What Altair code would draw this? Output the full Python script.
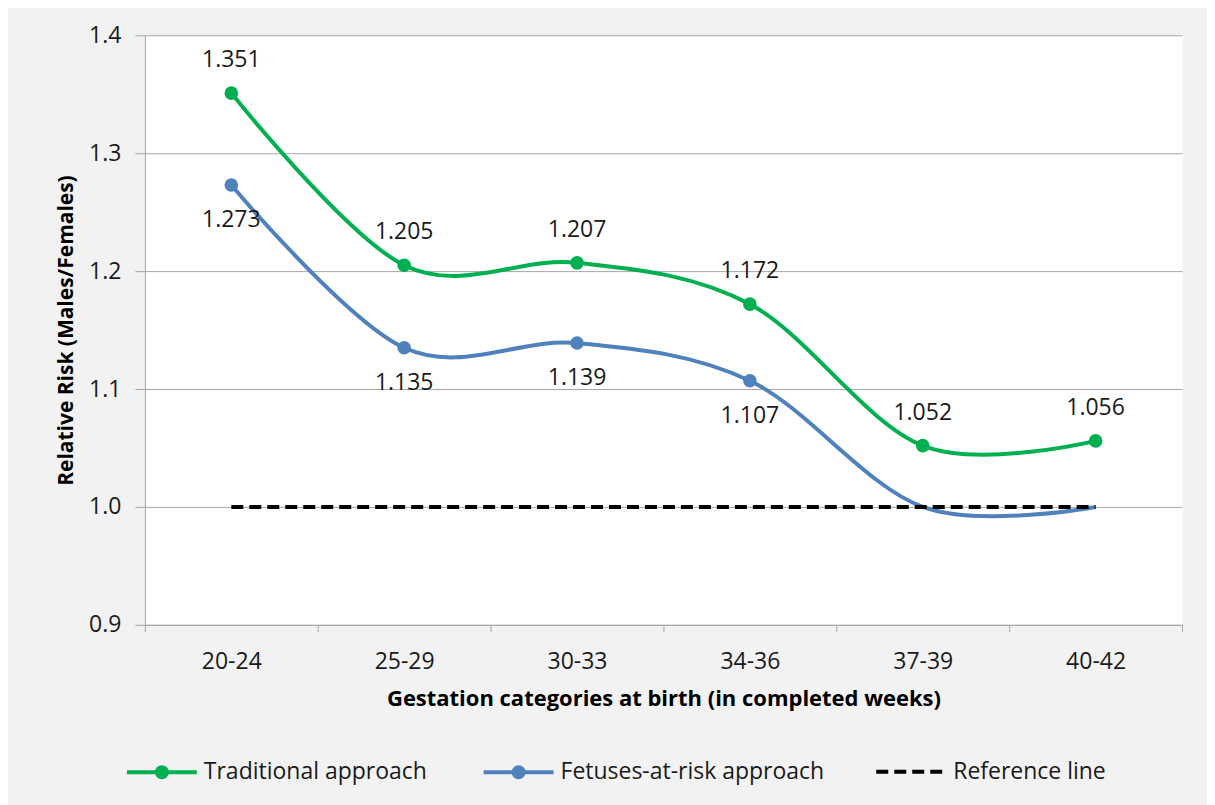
import altair as alt
import pandas as pd

categories = ["20-24", "25-29", "30-33", "34-36", "37-39", "40-42"]
traditional = [1.351, 1.205, 1.207, 1.172, 1.052, 1.056]
fetuses = [1.273, 1.135, 1.139, 1.107, 1.000, 1.000]
fetuses_marked = [True, True, True, True, False, False]
reference = [1.0, 1.0, 1.0, 1.0, 1.0, 1.0]
series_names = ["Traditional approach", "Fetuses-at-risk approach"]
series_colors = ["#00b050", "#4f81bd"]
ref_name = "Reference line"
y_ticks = [0.9, 1.0, 1.1, 1.2, 1.3, 1.4]

rows = []
for i, c in enumerate(categories):
    rows.append({"cat": c, "series": series_names[0], "value": traditional[i],
                 "marker": True, "label": f"{traditional[i]:.3f}"})
    rows.append({"cat": c, "series": series_names[1], "value": fetuses[i],
                 "marker": fetuses_marked[i], "label": f"{fetuses[i]:.3f}"})
    rows.append({"cat": c, "series": ref_name, "value": reference[i],
                 "marker": False, "label": ""})
df = pd.DataFrame(rows)

FONT = "Open Sans"
TXT = "#1a1a1a"
GRID = "#a6a6a6"
FS = 23


def ring(r):
    return f"M-{r},0A{r},{r} 0 1,1 {r},0A{r},{r} 0 1,1 -{r},0"


legend_shape = "M-1,0H1" + ring(0.143) + ring(0.09) + ring(0.04)

x = alt.X("cat:N", sort=categories, bandPosition=0.5,
          scale=alt.Scale(type="band", paddingInner=0, paddingOuter=0),
          axis=alt.Axis(title="Gestation categories at birth (in completed weeks)",
                        tickBand="extent", grid=False, labelAngle=0,
                        domainColor=GRID, tickColor=GRID, tickSize=7,
                        labelFontSize=FS, labelFont=FONT, labelColor=TXT, labelPadding=19,
                        titleFontSize=22, titleFont=FONT, titleFontWeight="bold",
                        titleColor="#000000", titlePadding=15))
y = alt.Y("value:Q", scale=alt.Scale(domain=[0.9, 1.4], nice=False, zero=False),
          axis=alt.Axis(title="Relative Risk (Males/Females)", values=y_ticks, format=".1f",
                        grid=True, gridColor=GRID, domainColor=GRID, tickColor=GRID,
                        tickSize=10, labelFontSize=FS, labelFont=FONT, labelColor=TXT,
                        labelPadding=14, titleFontSize=21, titleFont=FONT,
                        titleFontWeight="bold", titleColor="#000000", titlePadding=12))

color = alt.Color("series:N", scale=alt.Scale(domain=series_names, range=series_colors),
                  legend=alt.Legend(title=None, orient="none", legendX=-20, legendY=700,
                                    direction="horizontal", symbolType=legend_shape,
                                    symbolSize=4900, symbolStrokeWidth=4,
                                    labelFontSize=FS, labelFont=FONT, labelColor=TXT,
                                    labelLimit=500, labelOffset=5, columnPadding=48))
fill = alt.Fill("series:N", scale=alt.Scale(domain=series_names, range=series_colors),
                legend=None)
dash = alt.StrokeDash("series:N", scale=alt.Scale(domain=[ref_name], range=[[12, 6]]),
                      legend=alt.Legend(title=None, orient="none", legendX=730, legendY=700,
                                        symbolType="stroke", symbolSize=4900,
                                        symbolStrokeWidth=4, symbolStrokeColor="#000000",
                                        symbolDash=[12, 6],
                                        labelFontSize=FS, labelFont=FONT, labelColor=TXT,
                                        labelLimit=500, labelOffset=5))

base = alt.Chart(df)

lines = base.transform_filter(alt.datum.series != ref_name).mark_line(
    interpolate="cardinal", tension=0, strokeWidth=4).encode(x=x, y=y, color=color)
points = base.transform_filter(alt.datum.marker == True).mark_circle(
    size=185, opacity=1).encode(x=x, y=y, fill=fill)
ref = base.transform_filter(alt.datum.series == ref_name).mark_line(
    color="#000000", strokeWidth=4).encode(x=x, y=y, strokeDash=dash)
lab_top = base.transform_filter(alt.datum.series == series_names[0]).mark_text(
    dy=-33, fontSize=FS, font=FONT, color=TXT).encode(x=x, y=y, text="label:N")
lab_bot = base.transform_filter(
    (alt.datum.series == series_names[1]) & (alt.datum.marker == True)).mark_text(
    dy=35, fontSize=FS, font=FONT, color=TXT).encode(x=x, y=y, text="label:N")

chart = alt.layer(lines, points, ref, lab_top, lab_bot).properties(
    width=1038, height=590,
    autosize=alt.AutoSizeParams(type="none"),
    padding={"left": 137, "top": 27, "right": 25, "bottom": 180},
).configure(background="#f2f2f2", font=FONT).configure_view(fill="white", stroke="transparent")

chart.save("out.html", embed_options={"renderer": "svg", "actions": False})
